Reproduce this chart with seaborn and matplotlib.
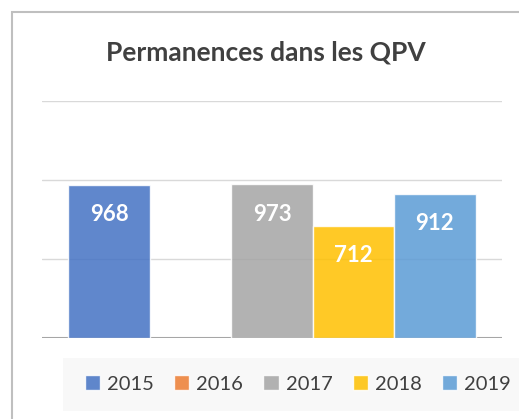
import numpy as np
import pandas as pd
import matplotlib.pyplot as plt
from matplotlib.patches import Rectangle
import seaborn as sns

# data
years = ['2015', '2016', '2017', '2018', '2019']
permanences = [968, np.nan, 973, 712, 912]
colors = ['#4472C4', '#ED7D31', '#A5A5A5', '#FFC000', '#5B9BD5']
title = 'Permanences dans les QPV'

df = pd.DataFrame({'cat': ['QPV'] * len(years), 'annee': years, 'valeur': permanences})

sns.set_style('white')
plt.rcParams['font.family'] = ['Lato', 'DejaVu Sans']

W, H = 519, 419
fig = plt.figure(figsize=(W / 100, H / 100), dpi=100)
fig.patch.set_facecolor('white')

# chart frame and legend background
fig.patches.append(Rectangle((12 / W, -0.1), 1.2, (H - 12) / H + 0.1, transform=fig.transFigure,
                             fill=False, edgecolor='#BFBFBF', linewidth=1.5))
fig.patches.append(Rectangle((63 / W, (H - 411) / H), 1.0, 53 / H, transform=fig.transFigure,
                             facecolor='#F8F8F8', edgecolor='none', zorder=0))

ax = fig.add_axes([42 / W, (H - 338) / H, 460 / W, 237 / H])
ax.set_facecolor('none')

sns.barplot(data=df, x='cat', y='valeur', hue='annee', hue_order=years,
            palette=colors, width=0.885, alpha=0.85, saturation=1,
            edgecolor='white', linewidth=1, ax=ax, legend=True, zorder=2)

ax.set_xlim(-0.5, 0.5)
ax.set_ylim(0, 1500)
ax.set_yticks([500, 1000, 1500])
ax.yaxis.grid(True, color='#D9D9D9', linewidth=1)
ax.set_axisbelow(True)
ax.axhline(0, color='#A6A6A6', linewidth=1.5, zorder=1)
ax.set_xlabel('')
ax.set_ylabel('')
ax.set_xticks([])
ax.tick_params(left=False, labelleft=False)
for s in ax.spines.values():
    s.set_visible(False)

for cont in ax.containers:
    labels = ['' if np.isnan(v) else f'{v:.0f}' for v in cont.datavalues]
    ax.bar_label(cont, labels=labels, padding=-29, color='white',
                 fontsize=16, fontweight='bold')

fig.text(0.5 * (12 + W) / W, (H - 52) / H, title, ha='center', va='center',
         fontsize=19, fontweight='bold', color='#404040')

handles, labs = ax.get_legend_handles_labels()
ax.get_legend().remove()
leg = fig.legend(handles, labs, loc='center left', bbox_to_anchor=(67 / W, (H - 384) / H),
                 ncol=5, frameon=False, fontsize=14.5, handlelength=0.75, handleheight=0.75,
                 handletextpad=0.35, columnspacing=1.0, labelcolor='#404040')

fig.savefig('out.png', dpi=100)
